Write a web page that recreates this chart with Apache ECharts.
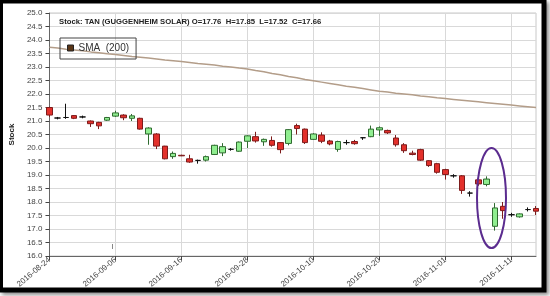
<!DOCTYPE html>
<html><head><meta charset="utf-8">
<script src="https://cdn.jsdelivr.net/npm/echarts@6/dist/echarts.min.js"></script>
<style>html,body{margin:0;padding:0;background:#fff}#c{width:550px;height:296px}</style>
</head><body><div id="c"></div>
<script>
const dates = [
 '2016-08-24','2016-08-25','2016-08-26','2016-08-29','2016-08-30','2016-08-31','2016-09-01','2016-09-02',
 '2016-09-06','2016-09-07','2016-09-08','2016-09-09','2016-09-12','2016-09-13','2016-09-14','2016-09-15',
 '2016-09-16','2016-09-19','2016-09-20','2016-09-21','2016-09-22','2016-09-23','2016-09-26','2016-09-27',
 '2016-09-28','2016-09-29','2016-09-30','2016-10-03','2016-10-04','2016-10-05','2016-10-06','2016-10-07',
 '2016-10-10','2016-10-11','2016-10-12','2016-10-13','2016-10-14','2016-10-17','2016-10-18','2016-10-19',
 '2016-10-20','2016-10-21','2016-10-24','2016-10-25','2016-10-26','2016-10-27','2016-10-28','2016-10-31',
 '2016-11-01','2016-11-02','2016-11-03','2016-11-04','2016-11-07','2016-11-08','2016-11-09','2016-11-10',
 '2016-11-11','2016-11-14','2016-11-15','2016-11-16'];
const opens = [
 21.50,21.11,21.13,21.20,21.15,21.00,20.95,21.03,
 21.18,21.22,21.10,21.10,20.52,20.52,20.07,19.68,
 19.73,19.60,19.54,19.55,19.76,19.82,19.95,19.88,
 20.25,20.42,20.23,20.28,20.20,20.17,20.83,20.70,
 20.32,20.48,20.26,19.95,20.20,20.24,20.38,20.42,
 20.67,20.65,20.37,20.12,19.81,19.94,19.53,19.42,
 19.20,18.97,18.97,18.33,18.82,18.65,17.10,17.84,
 17.53,17.45,17.72,17.76];
const closes = [
 21.22,21.11,21.13,21.10,21.15,20.90,20.82,21.13,
 21.30,21.12,21.19,20.70,20.74,20.07,19.60,19.80,
 19.71,19.48,19.54,19.68,20.10,20.05,19.95,20.22,
 20.45,20.26,20.32,20.10,19.94,20.68,20.72,20.20,
 20.52,20.25,20.15,20.24,20.20,20.16,20.38,20.70,
 20.75,20.56,20.12,19.90,19.76,19.55,19.35,19.10,
 19.02,18.97,18.43,18.33,18.67,18.85,17.78,17.68,
 17.53,17.56,17.72,17.66];
const lows = [
 21.15,21.06,21.08,21.07,21.10,20.78,20.70,21.00,
 21.15,21.03,21.00,20.68,20.12,19.96,19.58,19.60,
 19.70,19.45,19.42,19.50,19.74,19.70,19.90,19.86,
 20.00,20.20,20.08,20.05,19.80,20.10,20.50,20.15,
 20.30,20.18,20.10,19.86,20.12,20.12,20.30,20.40,
 20.45,20.52,20.05,19.82,19.73,19.52,19.30,19.05,
 18.83,18.90,18.30,18.20,18.60,18.58,16.94,17.38,
 17.45,17.42,17.65,17.52];
const highs = [
 21.53,21.15,21.64,21.22,21.20,21.02,20.97,21.15,
 21.38,21.25,21.26,21.12,20.77,20.55,20.08,19.87,
 19.75,19.75,19.57,19.72,20.12,20.18,20.00,20.24,
 20.47,20.60,20.35,20.43,20.22,20.70,20.90,20.72,
 20.55,20.58,20.30,20.27,20.30,20.30,20.40,20.83,
 20.80,20.68,20.48,20.18,19.90,19.97,19.55,19.45,
 19.23,19.03,19.00,18.40,19.10,18.95,17.96,18.00,
 17.60,17.58,17.80,17.85];
const sma = [
 23.73,23.70,23.66,23.63,23.60,23.56,23.53,23.49,
 23.46,23.43,23.39,23.36,23.33,23.30,23.26,23.23,
 23.20,23.17,23.13,23.10,23.07,23.03,23.00,22.96,
 22.93,22.87,22.82,22.76,22.71,22.65,22.60,22.54,
 22.49,22.44,22.39,22.34,22.29,22.25,22.20,22.15,
 22.10,22.07,22.03,22.00,21.97,21.93,21.90,21.86,
 21.83,21.80,21.77,21.74,21.71,21.68,21.65,21.62,
 21.59,21.56,21.53,21.50];
const titleText = 'Stock: TAN (GUGGENHEIM SOLAR) O=17.76  H=17.85  L=17.52  C=17.66';
const smaName = 'SMA  (200)';
const yName = 'Stock';

const ohlc = dates.map((d, i) => [opens[i], closes[i], lows[i], highs[i]]);
const FONT = 'Liberation Sans';
const chart = echarts.init(document.getElementById('c'), null, {renderer: 'canvas'});
chart.setOption({
  animation: false,
  backgroundColor: '#fff',
  textStyle: {fontFamily: FONT},
  title: {
    text: titleText, left: 54, top: 13,
    textStyle: {fontSize: 7.7, fontWeight: 'bold', color: '#222', fontFamily: FONT}
  },
  legend: {
    left: 60, top: 38,
    data: [{name: smaName, icon: 'rect'}],
    itemWidth: 6, itemHeight: 6,
    itemStyle: {color: '#5a3516', borderColor: '#222', borderWidth: 1},
    borderColor: '#444', borderWidth: 1, padding: [5, 7, 6, 7],
    textStyle: {fontSize: 10, color: '#333', fontFamily: FONT}
  },
  grid: {left: 46, right: 14, top: 13, bottom: 40, show: true, borderColor: '#c8c8c8', borderWidth: 1},
  xAxis: {
    type: 'category', data: dates, boundaryGap: false,
    axisLine: {lineStyle: {color: '#666'}},
    axisTick: {interval: 7, length: 4, lineStyle: {color: '#444'}},
    axisLabel: {interval: 7, rotate: 40, fontSize: 8, color: '#444', margin: 3, fontFamily: FONT},
    splitLine: {show: true, interval: 7, lineStyle: {color: '#d9d9d9'}}
  },
  yAxis: {
    type: 'value', min: 16, max: 25, interval: 0.5,
    name: yName, nameLocation: 'middle', nameGap: 29,
    nameTextStyle: {fontWeight: 'bold', fontSize: 8, color: '#222', fontFamily: FONT},
    axisLine: {show: true, lineStyle: {color: '#666'}},
    axisTick: {show: true, length: 4, lineStyle: {color: '#444'}},
    axisLabel: {fontSize: 8, color: '#444', margin: 7, fontFamily: FONT, formatter: v => v.toFixed(1)},
    splitLine: {lineStyle: {color: '#d9d9d9'}}
  },
  series: [
    {
      name: smaName, type: 'line', data: sma, symbol: 'none', z: 1,
      lineStyle: {color: '#b39d89', width: 1.5}, itemStyle: {color: '#5a3516'}
    },
    {
      name: 'TAN', type: 'candlestick', data: ohlc, barWidth: 6, z: 3,
      itemStyle: {
        color: '#90ee90', color0: '#e3302b',
        borderColor: '#2f6b2f', borderColor0: '#7d1b1b',
        borderColorDoji: '#111', borderWidth: 1
      }
    }
  ],
  graphic: [
    {type: 'rect', z: -10, shape: {x: 0, y: 0, width: 546.5, height: 292.5},
     style: {fill: '#000', shadowBlur: 4, shadowOffsetX: 2, shadowOffsetY: 2, shadowColor: 'rgba(0,0,0,0.45)'}},
    {type: 'rect', z: -9, shape: {x: 3, y: 3.5, width: 538.5, height: 284},
     style: {fill: '#fff'}},
    {type: 'ellipse', z: 100, shape: {cx: 491.5, cy: 198, rx: 14.5, ry: 50},
     style: {fill: 'none', stroke: '#5b2c8f', lineWidth: 2}},
    {type: 'line', z: 100, shape: {x1: 112.5, y1: 244, x2: 112.5, y2: 249},
     style: {stroke: '#888', lineWidth: 1}}
  ]
});
</script></body></html>
